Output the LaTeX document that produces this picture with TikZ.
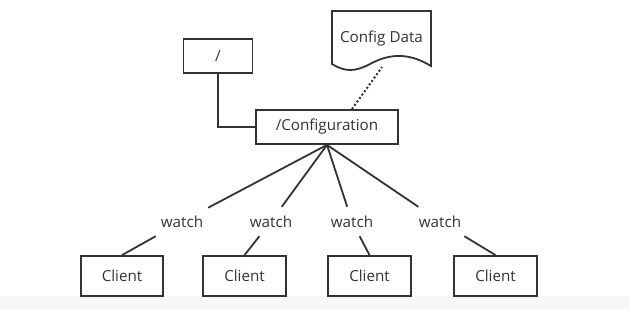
\documentclass[tikz,border=0pt]{standalone}
\usepackage{fontspec}
\setmainfont{Open Sans}
\definecolor{ink}{HTML}{333333}
\definecolor{strip}{HTML}{F7F7F7}
\begin{document}
\begin{tikzpicture}[x=1pt,y=-1pt,
  txt/.style={text=ink,font=\fontsize{15.2}{17}\selectfont},
  box/.style={draw=ink,line width=1.8pt,rectangle,inner sep=0pt,txt},
  lbl/.style={rectangle,inner sep=0pt,minimum width=52pt,minimum height=29pt,txt},
  wire/.style={draw=ink,line width=1.8pt}]
\useasboundingbox (0,0) rectangle (629,309);
\fill[white] (0,0) rectangle (629,296);
\fill[strip] (0,296) rectangle (629,309);
% nodes
\node[box,minimum width=69pt,minimum height=34pt] (root) at (218,56) {/};
\node[box,minimum width=142pt,minimum height=34pt] (conf) at (327,127) {/Configuration};
\node[txt] (cdt) at (381.5,39) {Config Data};
\draw[wire,line join=miter] (332,64) -- (332,11) -- (431,11) -- (431,66)
  .. controls (405,50) and (385,56) .. (370,64)
  .. controls (355,72) and (345,72) .. (332,64) -- cycle;
\coordinate (cdb) at (382,67);
\node[box,minimum width=82pt,minimum height=40pt] (c1) at (122,276) {Client};
\node[box,minimum width=83pt,minimum height=40pt] (c2) at (244.5,276) {Client};
\node[box,minimum width=83pt,minimum height=40pt] (c3) at (369.5,276) {Client};
\node[box,minimum width=83pt,minimum height=40pt] (c4) at (495.5,276) {Client};
\node[lbl] (w1) at (182,221.5) {watch};
\node[lbl] (w2) at (271,221.5) {watch};
\node[lbl] (w3) at (352,221.5) {watch};
\node[lbl] (w4) at (440,221.5) {watch};
% connectors
\draw[wire] (root.south) |- (conf.west);
\draw[ink,line width=2pt,dash pattern=on 2pt off 2.2pt] (conf.north -| 352,0) -- (cdb);
\foreach \i in {1,2,3,4}{
  \draw[wire] (conf.south) -- (w\i);
  \draw[wire] (w\i) -- (c\i.north);
}
\end{tikzpicture}
\end{document}
